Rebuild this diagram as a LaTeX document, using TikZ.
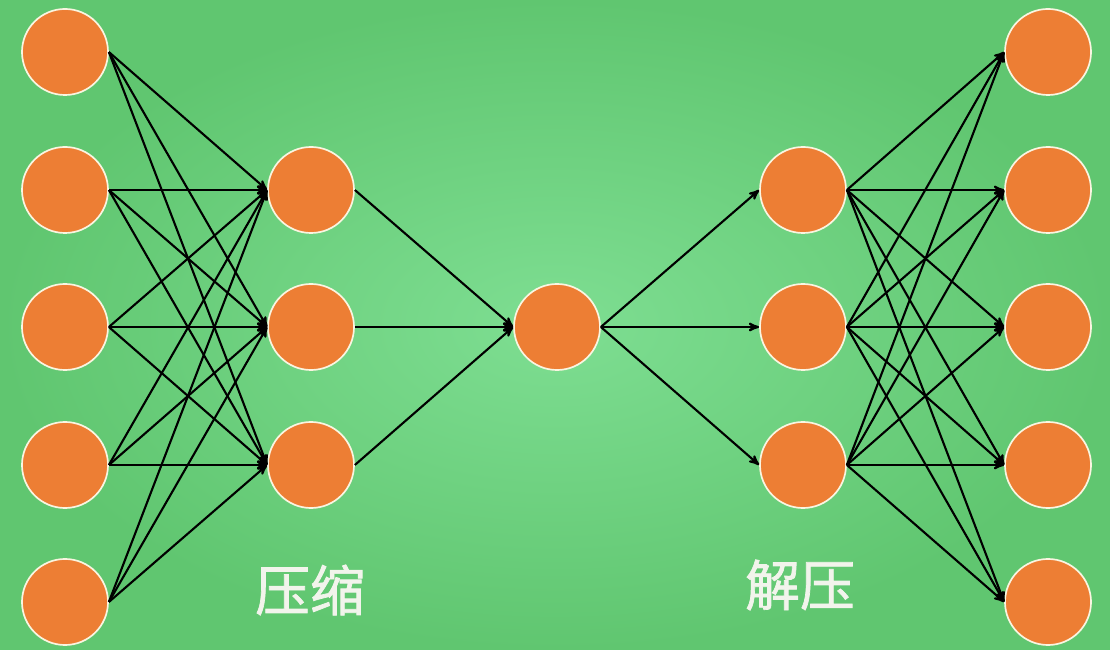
\documentclass[tikz,border=0pt]{standalone}
\usepackage{fontspec}
\usepackage{xcolor}
\usetikzlibrary{arrows}
\newfontfamily\cjk[FakeBold=1.3]{Noto Sans CJK SC}

\definecolor{nodeorange}{RGB}{237,126,52}
\definecolor{ringwhite}{RGB}{250,245,225}
\definecolor{greenin}{RGB}{126,222,146}
\definecolor{greenout}{RGB}{96,198,112}
\definecolor{captionwhite}{RGB}{242,244,236}

\begin{document}
\begin{tikzpicture}[x=0.025cm,y=0.025cm]
\tikzset{neuron/.style={circle,fill=nodeorange,draw=ringwhite,line width=1.2pt,minimum size=2.15cm,inner sep=0pt}}
\tikzset{link/.style={->,>=stealth',line width=1.5pt,black}}
\tikzset{caption/.style={text=captionwhite,font=\cjk\fontsize{39}{44}\selectfont}}

\shade[inner color=greenin,outer color=greenout] (0,0) rectangle (1110,650);
\useasboundingbox (0,0) rectangle (1110,650);

% layers
\foreach \i/\y in {1/598,2/460,3/323,4/185,5/48}
  \node[neuron] (in\i) at (65,\y) {};
\foreach \i/\y in {1/460,2/323,3/185}
  \node[neuron] (enc\i) at (311,\y) {};
\node[neuron] (code) at (557,323) {};
\foreach \i/\y in {1/460,2/323,3/185}
  \node[neuron] (dec\i) at (803,\y) {};
\foreach \i/\y in {1/598,2/460,3/323,4/185,5/48}
  \node[neuron] (out\i) at (1048,\y) {};

% connections
\foreach \i in {1,...,5}
  \foreach \j in {1,2,3}
    \draw[link] (in\i.east) -- (enc\j.west);
\foreach \j in {1,2,3}
  \draw[link] (enc\j.east) -- (code.west);
\foreach \j in {1,2,3}
  \draw[link] (code.east) -- (dec\j.west);
\foreach \j in {1,2,3}
  \foreach \i in {1,...,5}
    \draw[link] (dec\j.east) -- (out\i.west);

\node[caption] (zip) at (310,60) {压缩};
\node[caption] (unzip) at (800,65) {解压};

\end{tikzpicture}
\end{document}
